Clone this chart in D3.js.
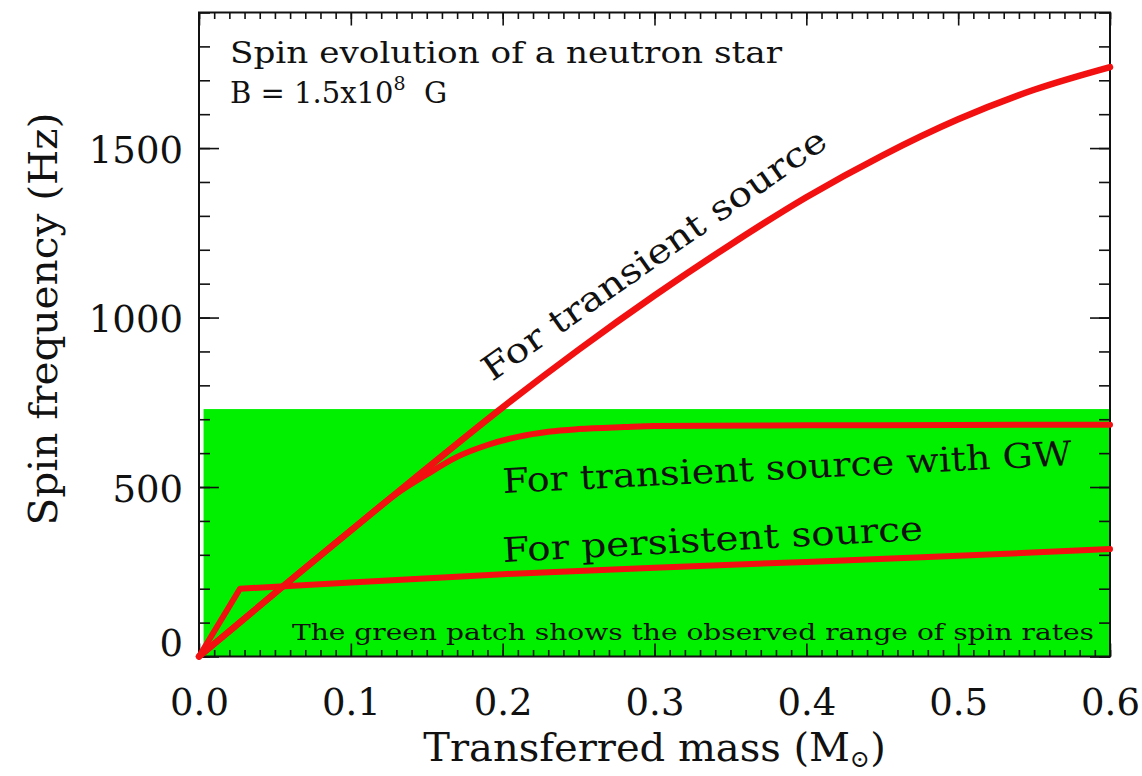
<!DOCTYPE html>
<html>
<head>
<meta charset="utf-8">
<script src="https://cdn.jsdelivr.net/npm/d3@7"></script>
<style>
  html, body { margin: 0; padding: 0; background: #ffffff; }
  svg { display: block; }
  text { font-family: "DejaVu Serif", "Liberation Serif", serif; fill: #111; }
</style>
</head>
<body>
<svg id="chart" width="1142" height="776"></svg>
<script>
// ---------------- data ----------------
const xDomain = [0, 0.6];
const yDomain = [0, 1900];
const xMajorTicks = [0, 0.1, 0.2, 0.3, 0.4, 0.5, 0.6];
const xTickLabels = ["0.0", "0.1", "0.2", "0.3", "0.4", "0.5", "0.6"];
const yMajorTicks = [0, 500, 1000, 1500];
const yTickLabels = ["0", "500", "1000", "1500"];
const xMinorStep = 0.01;
const yMinorStep = 100;

// transferred mass (Msun) and spin frequency (Hz)
const massTransient   = [0, 0.05, 0.10, 0.15, 0.20, 0.25, 0.30, 0.35, 0.40, 0.45, 0.50, 0.55, 0.60];
const freqTransient   = [0, 187, 372, 555, 735, 905, 1065, 1215, 1355, 1478, 1585, 1672, 1739];

const massGW          = [0, 0.05, 0.10, 0.13, 0.15, 0.17, 0.19, 0.21, 0.23, 0.25, 0.28, 0.30, 0.40, 0.50, 0.60];
const freqGW          = [0, 187, 372, 480, 537, 589, 624, 648, 663, 671, 677, 680, 682, 683, 684];

const massPersistent  = [0, 0.027, 0.10, 0.20, 0.30, 0.40, 0.50, 0.60];
const freqPersistent  = [0, 200, 218, 243, 262, 279, 297, 317];

// observed range of spin rates (green patch)
const patchMass = [0.003, 0.5995];
const patchFreq = [0, 730];

const titleLines = ["Spin evolution of a neutron star"];
const fieldLabel = { pre: "B = 1.5x10", sup: "8", post: "  G" };
const curveLabels = ["For transient source", "For transient source with GW", "For persistent source"];
const patchNote = "The green patch shows the observed range of spin rates";
const xTitle = { main: "Transferred mass (M", sub: "\u2299", end: ")" };
const yTitle = "Spin frequency (Hz)";

// ---------------- layout ----------------
const plot = { left: 199, right: 1110, top: 12.5, bottom: 656.5 };
const svg = d3.select("#chart");

const x = d3.scaleLinear().domain(xDomain).range([plot.left, plot.right]);
const y = d3.scaleLinear().domain(yDomain).range([plot.bottom, plot.top]);

const zip = (a, b) => a.map((v, i) => [v, b[i]]);

// green patch
svg.append("rect")
  .attr("x", x(patchMass[0]))
  .attr("y", y(patchFreq[1]))
  .attr("width", x(patchMass[1]) - x(patchMass[0]))
  .attr("height", y(patchFreq[0]) - y(patchFreq[1]))
  .attr("fill", "#00f000");

// axes (inward ticks on all four sides)
const xMinor = d3.range(0, xDomain[1] + 1e-9, xMinorStep).map(v => +v.toFixed(3));
const yMinor = d3.range(0, yDomain[1] + 1e-9, yMinorStep);

function styleAxis(g) {
  g.select(".domain").remove();
  g.selectAll("line").attr("stroke", "#111").attr("stroke-width", 1.6);
}

const bottomMinor = svg.append("g").attr("transform", `translate(0,${plot.bottom})`)
  .call(d3.axisBottom(x).tickValues(xMinor).tickSize(-6.5).tickFormat(""));
styleAxis(bottomMinor);
const topMinor = svg.append("g").attr("transform", `translate(0,${plot.top})`)
  .call(d3.axisTop(x).tickValues(xMinor).tickSize(-6.5).tickFormat(""));
styleAxis(topMinor);
const leftMinor = svg.append("g").attr("transform", `translate(${plot.left},0)`)
  .call(d3.axisLeft(y).tickValues(yMinor).tickSize(-11).tickFormat(""));
styleAxis(leftMinor);
const rightMinor = svg.append("g").attr("transform", `translate(${plot.right},0)`)
  .call(d3.axisRight(y).tickValues(yMinor).tickSize(-11).tickFormat(""));
styleAxis(rightMinor);

const bottomAxis = svg.append("g").attr("transform", `translate(0,${plot.bottom})`)
  .call(d3.axisBottom(x).tickValues(xMajorTicks).tickSize(-13).tickPadding(32)
    .tickFormat((d, i) => xTickLabels[i]));
styleAxis(bottomAxis);
bottomAxis.selectAll("text")
  .style("font-family", '"DejaVu Serif", serif').attr("font-size", 37).attr("fill", "#111");

const topAxis = svg.append("g").attr("transform", `translate(0,${plot.top})`)
  .call(d3.axisTop(x).tickValues(xMajorTicks).tickSize(-13).tickFormat(""));
styleAxis(topAxis);

const leftAxis = svg.append("g").attr("transform", `translate(${plot.left},0)`)
  .call(d3.axisLeft(y).tickValues(yMajorTicks).tickSize(-20).tickPadding(16)
    .tickFormat((d, i) => yTickLabels[i]));
styleAxis(leftAxis);
leftAxis.selectAll("text")
  .style("font-family", '"DejaVu Serif", serif').attr("font-size", 37).attr("fill", "#111")
  .attr("dy", d => d === yDomain[0] ? "-0.02em" : "0.38em");

const rightAxis = svg.append("g").attr("transform", `translate(${plot.right},0)`)
  .call(d3.axisRight(y).tickValues(yMajorTicks).tickSize(-20).tickFormat(""));
styleAxis(rightAxis);

// frame
svg.append("rect")
  .attr("x", plot.left).attr("y", plot.top)
  .attr("width", plot.right - plot.left).attr("height", plot.bottom - plot.top)
  .attr("fill", "none").attr("stroke", "#111").attr("stroke-width", 2);

// curves
const smooth = d3.line().x(d => x(d[0])).y(d => y(d[1])).curve(d3.curveMonotoneX);
const straight = d3.line().x(d => x(d[0])).y(d => y(d[1]));
const red = "#f21010";

svg.append("path").datum(zip(massPersistent, freqPersistent))
  .attr("d", straight).attr("fill", "none").attr("stroke", red)
  .attr("stroke-width", 6).attr("stroke-linejoin", "round").attr("stroke-linecap", "round");
svg.append("path").datum(zip(massGW, freqGW))
  .attr("d", smooth).attr("fill", "none").attr("stroke", red)
  .attr("stroke-width", 6).attr("stroke-linejoin", "round").attr("stroke-linecap", "round");
svg.append("path").datum(zip(massTransient, freqTransient))
  .attr("d", smooth).attr("fill", "none").attr("stroke", red)
  .attr("stroke-width", 6.5).attr("stroke-linejoin", "round").attr("stroke-linecap", "round");

// annotation texts
svg.append("text").attr("x", 230).attr("y", 63)
  .attr("font-size", 29).attr("textLength", 552).attr("lengthAdjust", "spacingAndGlyphs")
  .text(titleLines[0]);

const bt = svg.append("text").attr("x", 230).attr("y", 103).attr("font-size", 29)
  .attr("xml:space", "preserve");
bt.append("tspan").text(fieldLabel.pre);
bt.append("tspan").attr("font-size", 19).attr("dy", -13).text(fieldLabel.sup);
bt.append("tspan").attr("dy", 13).text(fieldLabel.post);

svg.append("text")
  .attr("transform", `translate(492,382) rotate(-35)`)
  .attr("font-size", 34).attr("textLength", 412).attr("lengthAdjust", "spacingAndGlyphs")
  .text(curveLabels[0]);

svg.append("text")
  .attr("transform", `translate(503,493) rotate(-2.8)`)
  .attr("font-size", 34).attr("textLength", 570).attr("lengthAdjust", "spacingAndGlyphs")
  .attr("fill", "#0a0a0a")
  .text(curveLabels[1]);

svg.append("text")
  .attr("transform", `translate(503,562) rotate(-3)`)
  .attr("font-size", 34).attr("textLength", 421).attr("lengthAdjust", "spacingAndGlyphs")
  .attr("fill", "#0a0a0a")
  .text(curveLabels[2]);

svg.append("text").attr("x", 292).attr("y", 640)
  .attr("font-size", 23).attr("textLength", 802).attr("lengthAdjust", "spacingAndGlyphs")
  .attr("fill", "#0a0a0a")
  .text(patchNote);

// axis titles
const xt = svg.append("text")
  .attr("x", (plot.left + plot.right) / 2).attr("y", 761)
  .attr("text-anchor", "middle").attr("font-size", 40);
xt.append("tspan").text(xTitle.main);
xt.append("tspan").attr("font-size", 24).attr("dy", 6).text(xTitle.sub);
xt.append("tspan").attr("dy", -6).text(xTitle.end);

svg.append("text")
  .attr("transform", `translate(57,319) rotate(-90)`)
  .attr("text-anchor", "middle").attr("font-size", 39)
  .attr("textLength", 413).attr("lengthAdjust", "spacingAndGlyphs")
  .text(yTitle);
</script>
</body>
</html>
